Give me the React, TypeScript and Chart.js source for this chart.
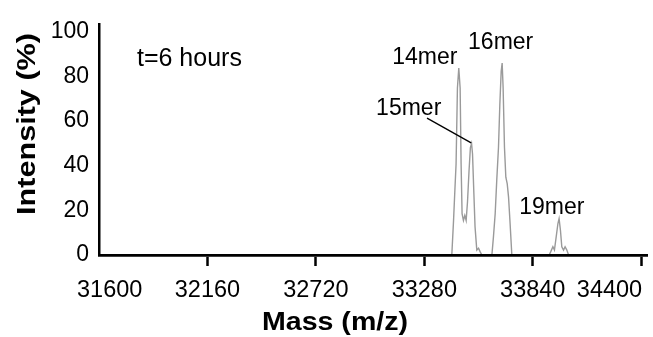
import React, { useEffect, useRef } from 'react';
import { Chart, registerables } from 'chart.js';

Chart.register(...registerables);

// ---- data ----
const masses = [
  31600, 33422, 33431, 33437, 33444, 33451, 33458, 33465, 33470, 33475,
  33482, 33489, 33496, 33503, 33511, 33518, 33524, 33529, 33536, 33542,
  33551, 33560, 33568, 33577, 33629, 33637, 33646, 33654, 33663, 33670,
  33677, 33682, 33687, 33694, 33701, 33708, 33715, 33723, 33732, 33925,
  33933, 33944, 33952, 33961, 33970, 33976, 33983, 33990, 33999, 34007,
  34016, 34025, 34400,
];
const intensities = [
  0, 0, 15.5, 27.4, 40.7, 74.8, 83.7, 74.8, 40.7, 18.5,
  15.5, 17.7, 15.5, 23.7, 37.8, 48.1, 49.9, 45.2, 27.4, 12.6,
  2.2, 3.0, 1.5, 0, 0, 8.1, 18.5, 33.3, 48.1, 67.4,
  82.2, 85.9, 74.8, 48.1, 34.8, 32.0, 25.9, 14.1, 0, 0,
  1.5, 3.7, 2.2, 8.1, 14.1, 16.3, 11.1, 3.7, 2.2, 3.7,
  2.2, 0, 0,
];
const xTickValues = [31600, 32160, 32720, 33280, 33840, 34400];
const yTickValues = [0, 20, 40, 60, 80, 100];
const xTitle = 'Mass (m/z)';
const yTitle = 'Intensity (%)';
const timeLabel = 't=6 hours';
const peakNames = ['14mer', '15mer', '16mer', '19mer'];

const FONT = 'Arial, "Liberation Sans", Helvetica, sans-serif';

function stretchedText(ctx: CanvasRenderingContext2D, text: string, cx: number, cy: number, font: string, targetW: number, rot: number) {
  ctx.save();
  ctx.font = font;
  const w = ctx.measureText(text).width;
  ctx.translate(cx, cy);
  ctx.rotate(rot);
  ctx.scale(targetW / w, 1);
  ctx.textAlign = 'center';
  ctx.textBaseline = 'middle';
  ctx.fillStyle = '#000';
  ctx.fillText(text, 0, 0);
  ctx.restore();
}

const annotationPlugin = {
  id: 'spectrumAnnotations',
  afterDraw(chart: any) {
    const ctx: CanvasRenderingContext2D = chart.ctx;
    const xs = chart.scales.x;
    const ys = chart.scales.y;
    ctx.save();
    ctx.fillStyle = '#000';

    // x tick labels
    ctx.font = `23.5px ${FONT}`;
    ctx.textBaseline = 'alphabetic';
    xTickValues.forEach((v, i) => {
      const px = xs.getPixelForValue(v);
      if (i === 0) {
        ctx.textAlign = 'left';
        ctx.fillText(String(v), px - 22, xs.top + 42);
      } else if (i === xTickValues.length - 1) {
        ctx.textAlign = 'right';
        ctx.fillText(String(v), px + 1, xs.top + 42);
      } else {
        ctx.textAlign = 'center';
        ctx.fillText(String(v), px, xs.top + 42);
      }
    });

    // axis titles
    stretchedText(ctx, xTitle, xs.left + 236, xs.top + 68, `bold 25px ${FONT}`, 146, 0);
    stretchedText(ctx, yTitle, 28, 124, `bold 26px ${FONT}`, 182, -Math.PI / 2);

    // in-plot labels (anchored in data coordinates)
    ctx.textAlign = 'left';
    ctx.textBaseline = 'alphabetic';
    ctx.font = `25px ${FONT}`;
    ctx.fillText(timeLabel, xs.getPixelForValue(31796), ys.getPixelForValue(84.4));
    const anchors = [
      [33114, 85.3],
      [33031, 62.6],
      [33506, 92.4],
      [33770, 18.2],
    ];
    ctx.font = `23px ${FONT}`;
    peakNames.forEach((name, i) => {
      ctx.fillText(name, xs.getPixelForValue(anchors[i][0]), ys.getPixelForValue(anchors[i][1]));
    });

    // leader line for 15mer
    ctx.strokeStyle = '#000';
    ctx.lineWidth = 1.3;
    ctx.beginPath();
    ctx.moveTo(xs.getPixelForValue(33294), ys.getPixelForValue(61.3));
    ctx.lineTo(xs.getPixelForValue(33522), ys.getPixelForValue(50.2));
    ctx.stroke();
    ctx.restore();
  },
};

export default function App() {
  const canvasRef = useRef<HTMLCanvasElement | null>(null);

  useEffect(() => {
    document.body.style.margin = '0';
    const canvas = canvasRef.current;
    if (!canvas) return;
    const points = masses.map((m, i) => ({ x: m, y: intensities[i] }));
    const chart = new Chart(canvas, {
      type: 'line',
      data: {
        datasets: [
          {
            data: points,
            borderColor: '#9a9a9a',
            borderWidth: 1.4,
            pointRadius: 0,
            tension: 0,
            fill: false,
          },
        ],
      },
      options: {
        animation: false,
        responsive: false,
        devicePixelRatio: 1,
        layout: { padding: { top: 22, right: 6, left: 0, bottom: 0 } },
        plugins: {
          legend: { display: false },
          tooltip: { enabled: false },
          title: { display: false },
        },
        scales: {
          x: {
            type: 'linear',
            min: 31600,
            max: 34430,
            afterBuildTicks: (s: any) => {
              s.ticks = xTickValues.map((v) => ({ value: v }));
            },
            afterFit: (s: any) => {
              s.height = 82;
            },
            ticks: { display: false },
            grid: {
              display: true,
              drawOnChartArea: false,
              drawTicks: true,
              tickLength: 11,
              tickWidth: 2.5,
              tickColor: (c: any) => (c.index === 0 ? 'rgba(0,0,0,0)' : '#000'),
              color: 'rgba(0,0,0,0)',
            },
            border: { display: true, color: '#000', width: 2.8, z: 1 },
            title: { display: false },
          },
          y: {
            type: 'linear',
            min: 0,
            max: 103.5,
            afterBuildTicks: (s: any) => {
              s.ticks = yTickValues.map((v) => ({ value: v }));
            },
            afterFit: (s: any) => {
              s.width = 99;
            },
            ticks: {
              color: '#000',
              font: { family: FONT, size: 23 },
              padding: 10,
            },
            grid: { display: true, drawOnChartArea: false, drawTicks: false, color: 'rgba(0,0,0,0)' },
            border: { display: true, color: '#000', width: 2.5, z: 1 },
            title: { display: false },
          },
        },
      },
      plugins: [annotationPlugin],
    } as any);
    return () => chart.destroy();
  }, []);

  return (
    <div style={{ width: 653, height: 337, background: '#fff' }}>
      <canvas ref={canvasRef} width={653} height={337} style={{ display: 'block' }} />
    </div>
  );
}
